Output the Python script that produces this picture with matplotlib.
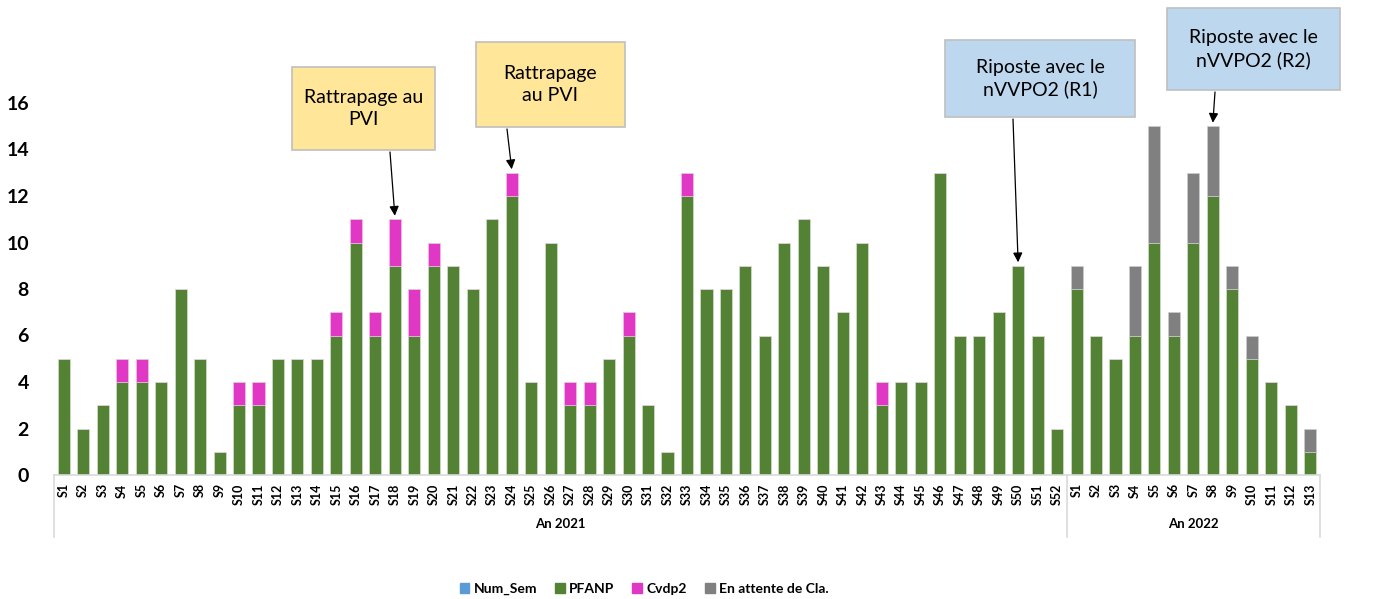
import matplotlib.pyplot as plt
from matplotlib.patches import Patch, Rectangle
import numpy as np

plt.rcParams['font.family'] = ['Lato', 'DejaVu Sans']

#%% donnees
semaines_2021 = ['S%d' % i for i in range(1, 53)]
semaines_2022 = ['S%d' % i for i in range(1, 14)]
annees = ['An 2021', 'An 2022']

pfanp_2021 = [5, 2, 3, 4, 4, 4, 8, 5, 1, 3, 3, 5, 5, 5, 6, 10, 6, 9, 6, 9,
              9, 8, 11, 12, 4, 10, 3, 3, 5, 6, 3, 1, 12, 8, 8, 9, 6, 10, 11, 9,
              7, 10, 3, 4, 4, 13, 6, 6, 7, 9, 6, 2]
cvdp2_2021 = [0, 0, 0, 1, 1, 0, 0, 0, 0, 1, 1, 0, 0, 0, 1, 1, 1, 2, 2, 1,
              0, 0, 0, 1, 0, 0, 1, 1, 0, 1, 0, 0, 1, 0, 0, 0, 0, 0, 0, 0,
              0, 0, 1, 0, 0, 0, 0, 0, 0, 0, 0, 0]
pfanp_2022 = [8, 6, 5, 6, 10, 6, 10, 12, 8, 5, 4, 3, 1]
attente_2022 = [1, 0, 0, 3, 5, 1, 3, 3, 1, 1, 0, 0, 1]

annotations = ['Rattrapage au\nPVI', 'Rattrapage\nau PVI',
               'Riposte avec le\nnVVPO2 (R1)', 'Riposte avec le\nnVVPO2 (R2)']

#%% preparation
labels = semaines_2021 + semaines_2022
n21, n22 = len(semaines_2021), len(semaines_2022)
pfanp = np.array(pfanp_2021 + pfanp_2022)
cvdp2 = np.array(cvdp2_2021 + [0] * n22)
attente = np.array([0] * n21 + attente_2022)
x = np.arange(len(labels))

c_sem = '#5B9BD5'
c_pfanp = '#548235'
c_cvdp = '#E038C4'
c_att = '#808080'

fig = plt.figure(figsize=(13.75, 5.99), dpi=100)
W, H = 1375, 599
def fx(px):
    return px / W
def fy(py):
    return 1 - py / H

ax = fig.add_axes([fx(54), fy(475), fx(1320) - fx(54), fy(103) - fy(475)])

w = 0.62
ax.bar(x, pfanp, w, color=c_pfanp, edgecolor='#DDE8D5', linewidth=0.4)
ax.bar(x, cvdp2, w, bottom=pfanp, color=c_cvdp, edgecolor='#F2C6EC', linewidth=0.4)
ax.bar(x, attente, w, bottom=pfanp + cvdp2, color=c_att, edgecolor='#D0D0D0', linewidth=0.4)

ax.set_xlim(-0.5, len(labels) - 0.5)
ax.set_ylim(0, 16)
ax.set_yticks(range(0, 17, 2))
ax.tick_params(axis='y', length=0, labelsize=14, pad=18)
for t in ax.get_yticklabels():
    t.set_fontweight('bold')
ax.set_xticks(x)
ax.set_xticklabels(labels, rotation=90, fontsize=9, fontweight='bold')
ax.tick_params(axis='x', length=0, pad=6)

for s in ['top', 'right', 'left']:
    ax.spines[s].set_visible(False)
ax.spines['bottom'].set_color('#D9D9D9')
ax.spines['bottom'].set_linewidth(1.2)

# separateurs des annees
trans = ax.get_xaxis_transform()
for xs in [-0.5, n21 - 0.5, len(labels) - 0.5]:
    ax.plot([xs, xs], [0, -0.168], transform=trans, color='#D9D9D9', lw=1.2, clip_on=False)
ax.text((n21 - 1) / 2, -0.132, annees[0], transform=trans, ha='center', va='center',
        fontsize=9.5, fontweight='bold')
ax.text(n21 + (n22 - 1) / 2, -0.132, annees[1], transform=trans, ha='center', va='center',
        fontsize=9.5, fontweight='bold')

#%% boites d'annotation
boites = [(292, 67, 435, 150, '#FFE699'),
          (476, 42, 625, 127, '#FFE699'),
          (945, 40, 1135, 117, '#BDD7EE'),
          (1167, 8, 1340, 90, '#BDD7EE')]
cibles = [17, 23, 49, n21 + 7]
depart_x = [390, 507, 1013, 1215]
for (x0, y0, x1, y1, col), txt, ci, dx in zip(boites, annotations, cibles, depart_x):
    fig.patches.append(Rectangle((fx(x0), fy(y1)), fx(x1) - fx(x0), fy(y0) - fy(y1),
                                 transform=fig.transFigure, facecolor=col,
                                 edgecolor='#BFBFBF', linewidth=1.2))
    fig.text(fx((x0 + x1) / 2), fy((y0 + y1) / 2), txt, ha='center', va='center',
             fontsize=14, linespacing=1.3)
    top = pfanp[ci] + cvdp2[ci] + attente[ci]
    ax.annotate('', xy=(ci, top + 0.15), xycoords='data',
                xytext=(fx(dx), fy(y1 + 2)), textcoords='figure fraction',
                arrowprops=dict(arrowstyle='-|>', color='black', lw=0.9,
                                mutation_scale=14, shrinkA=0, shrinkB=0),
                annotation_clip=False)

#%% legende
handles = [Patch(color=c_sem, label='Num_Sem'), Patch(color=c_pfanp, label='PFANP'),
           Patch(color=c_cvdp, label='Cvdp2'), Patch(color=c_att, label='En attente de Cla.')]
leg = fig.legend(handles=handles, loc='center', bbox_to_anchor=(fx(644), fy(589)), ncol=4,
                 frameon=False, handlelength=0.7, handleheight=0.7, handletextpad=0.3,
                 columnspacing=1.3, prop={'size': 10, 'weight': 'bold'})

fig.savefig('out.png', dpi=100)
